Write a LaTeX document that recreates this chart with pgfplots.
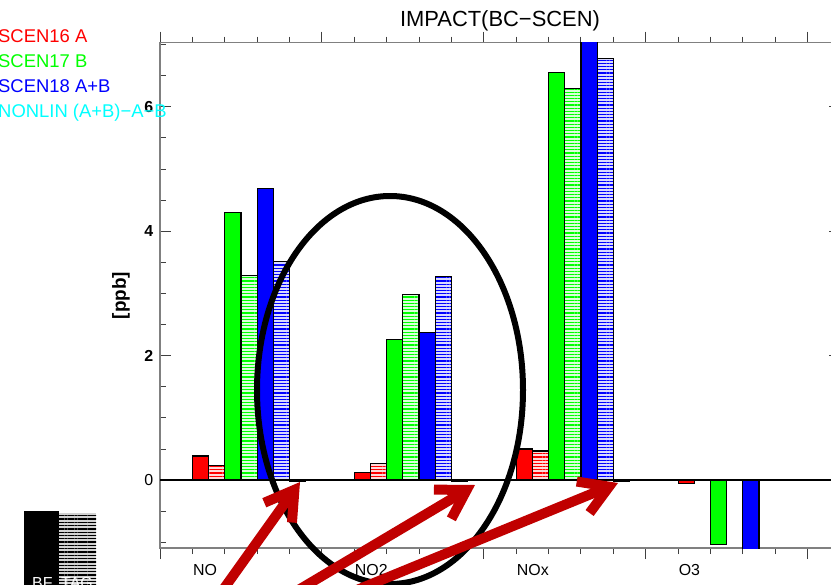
\documentclass[border=0pt]{standalone}
\usepackage{pgfplots}
\pgfplotsset{compat=1.18}
\usepackage{fontspec}
\setmainfont{Liberation Sans}
\usetikzlibrary{patterns.meta,arrows.meta}

\definecolor{arrowred}{RGB}{192,0,0}
\definecolor{cyn}{RGB}{0,255,255}

\tikzset{
  hatch/.style={fill=#1!15!white,
    postaction={pattern={Lines[angle=0,distance=3.2bp,line width=1.1bp]},pattern color=#1}},
}

\begin{document}
\begin{tikzpicture}
\begin{axis}[
  at={(160bp,-548bp)}, anchor=south west,
  scale only axis, width=680bp, height=505.3bp,
  xmin=0, xmax=21, ymin=-1.09, ymax=7.03,
  ybar=0pt, bar width=16.19bp,
  axis line style={gray, line width=1.5bp},
  every tick/.style={black!75, line width=1bp},
  major tick length=11bp, minor tick length=6bp,
  xtick={0,5,10,15,20}, xticklabels={},
  minor xtick={0,1,...,21},
  extra x ticks={1,6,11,16},
  extra x tick labels={NO,NO2,NOx,O3},
  extra x tick style={major tick length=0pt,
    tick label style={anchor=north west, inner sep=0pt, yshift=-16bp, xshift=0.5bp}},
  ytick={0,2,4,6},
  yticklabels={0,\textbf{2},\textbf{4},\textbf{6}},
  minor ytick={-1,-0.5,...,7},
  yticklabel style={inner sep=0pt, xshift=-6.5bp},
  tick label style={font=\fontsize{16}{18}\selectfont},
  title={IMPACT(BC−SCEN)},
  title style={font=\fontsize{22}{24}\selectfont, at={(axis description cs:0.5,1)}, anchor=base, yshift=10.5bp},
  ylabel={\textbf{[ppb]}},
  ylabel style={font=\fontsize{19}{21}\selectfont, at={(axis description cs:-0.0574,0.5)}, anchor=center},
  every axis plot/.append style={draw=black, line width=1.2bp},
]
% SCEN16 A (BF)
\addplot[fill=red] coordinates {(2.75,0.39) (7.75,0.12) (12.75,0.50) (17.75,-0.05)};
% SCEN16 A (TAG)
\addplot[hatch=red] coordinates {(2.75,0.23) (7.75,0.27) (12.75,0.47) (17.75,0)};
% SCEN17 B (BF)
\addplot[fill=green] coordinates {(2.75,4.30) (7.75,2.26) (12.75,6.55) (17.75,-1.03)};
% SCEN17 B (TAG)
\addplot[hatch=green] coordinates {(2.75,3.29) (7.75,2.99) (12.75,6.29) (17.75,0)};
% SCEN18 A+B (BF)
\addplot[fill=blue] coordinates {(2.75,4.69) (7.75,2.37) (12.75,7.30) (17.75,-1.15)};
% SCEN18 A+B (TAG)
\addplot[hatch=blue] coordinates {(2.75,3.52) (7.75,3.27) (12.75,6.77) (17.75,0)};
% NONLIN (A+B)-A-B
\addplot[fill=cyn] coordinates {(2.75,-0.015) (7.75,-0.015) (12.75,-0.015) (17.75,0)};
\draw[black, line width=1.5bp] (axis cs:0,0) -- (axis cs:21,0);
\end{axis}

% series labels
\begin{scope}[every node/.style={anchor=base west, inner sep=0pt, font=\fontsize{18.5}{20}\selectfont}]
\node[text=red] at (-2bp,-42bp) {SCEN16 A};
\node[text=green] at (-2bp,-67bp) {SCEN17 B};
\node[text=blue] at (-2bp,-92.5bp) {SCEN18 A+B};
\node[text=cyn] at (-2bp,-117bp) {NONLIN (A+B)−A−B};
\end{scope}

% BF / TAG key
\fill[black] (24bp,-511bp) rectangle (59bp,-600bp);
\fill[gray!35] (59bp,-513bp) rectangle (96bp,-600bp);
\fill[pattern={Lines[angle=0,distance=3.3bp,line width=1.3bp]}, pattern color=black] (59bp,-513bp) rectangle (96bp,-600bp);
\node[anchor=base west, inner sep=0pt, text=white, font=\fontsize{16}{18}\selectfont] at (32bp,-588.5bp) {BF};
\node[anchor=base west, inner sep=0pt, text=white, font=\fontsize{16}{18}\selectfont] at (61bp,-588.5bp) {TAG};

% annotations
\draw[black, line width=6bp] (390bp,-390bp) ellipse [x radius=133bp, y radius=194bp];
\begin{scope}[arrowred, line width=10bp, -{Straight Barb[length=28bp,width=34bp]}]
\draw (215bp,-601bp) -- (300bp,-482bp);
\draw (290bp,-595bp) -- (475bp,-485bp);
\draw (352bp,-592bp) -- (618bp,-483bp);
\end{scope}

\pgfresetboundingbox
\path[use as bounding box] (0bp,0bp) rectangle (831bp,-585bp);
\end{tikzpicture}
\end{document}
